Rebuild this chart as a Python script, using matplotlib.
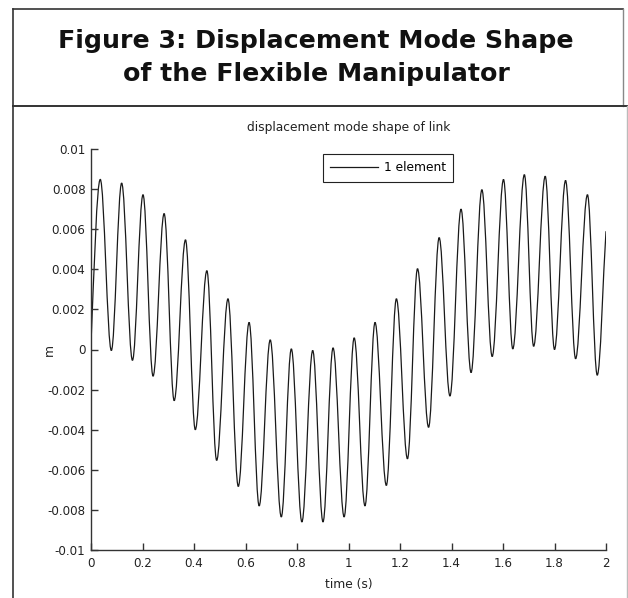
import numpy as np
import matplotlib
matplotlib.use('Agg')
import matplotlib.pyplot as plt
from matplotlib.path import Path
from matplotlib.patches import PathPatch
from matplotlib.lines import Line2D

# peaks / troughs of the displacement (time in s, value in m)
t_pts = [0.0, 0.036, 0.079, 0.119, 0.161, 0.202, 0.241, 0.284, 0.323, 0.367,
         0.405, 0.450, 0.488, 0.532, 0.572, 0.614, 0.653, 0.696, 0.739, 0.778,
         0.819, 0.861, 0.901, 0.940, 0.983, 1.022, 1.064, 1.103, 1.147, 1.186,
         1.229, 1.268, 1.311, 1.352, 1.394, 1.437, 1.476, 1.518, 1.558, 1.602,
         1.638, 1.683, 1.719, 1.764, 1.800, 1.843, 1.882, 1.928, 1.966, 2.0]
y_pts = [0.0003, 0.00848, -0.00005, 0.0083, -0.00054, 0.00772, -0.00133, 0.00678,
         -0.00255, 0.00547, -0.004, 0.00393, -0.00553, 0.00253, -0.00683, 0.00135,
         -0.0078, 0.00048, -0.00835, 0.00003, -0.0086, -0.00005, -0.0086, 0.00008,
         -0.00835, 0.00058, -0.0078, 0.00135, -0.00678, 0.00253, -0.00545, 0.00403,
         -0.00388, 0.00558, -0.00232, 0.0070, -0.00115, 0.00797, -0.00035, 0.00848,
         0.00003, 0.00872, 0.00016, 0.00864, 0.0, 0.00843, -0.00046, 0.00772,
         -0.00128, 0.0059]

xticks = [0, 0.2, 0.4, 0.6, 0.8, 1, 1.2, 1.4, 1.6, 1.8, 2]
xtick_labels = ['0', '0.2', '0.4', '0.6', '0.8', '1', '1.2', '1.4', '1.6', '1.8', '2']
yticks = [-0.01, -0.008, -0.006, -0.004, -0.002, 0, 0.002, 0.004, 0.006, 0.008, 0.01]
ytick_labels = ['-0.01', '-0.008', '-0.006', '-0.004', '-0.002', '0',
                '0.002', '0.004', '0.006', '0.008', '0.01']

# matlab style ticks
plt.rcParams['xtick.direction'] = 'in'
plt.rcParams['ytick.direction'] = 'in'
plt.rcParams['xtick.major.size'] = 5
plt.rcParams['ytick.major.size'] = 5
plt.rcParams['xtick.major.width'] = 1.0
plt.rcParams['ytick.major.width'] = 1.0

W, H = 628, 598
fig = plt.figure(figsize=(W / 100, H / 100), dpi=100)
fig.patch.set_facecolor('white')

def fx(px):
    return px / W

def fy(py):
    return 1 - py / H

# frame of the figure cell
frame_col = '#333333'
fig.add_artist(Line2D([fx(13), fx(623)], [fy(9), fy(9)], color=frame_col, lw=1.2))
fig.add_artist(Line2D([fx(13), fx(13)], [fy(9), fy(598)], color=frame_col, lw=1.2))
fig.add_artist(Line2D([fx(623), fx(623)], [fy(9), fy(106)], color='#888888', lw=1.0))
fig.add_artist(Line2D([fx(13), fx(628)], [fy(106), fy(106)], color=frame_col, lw=1.4))
fig.add_artist(Line2D([fx(627), fx(627)], [fy(106), fy(598)], color='#bbbbbb', lw=1.0))

fig.text(fx(316), fy(41), 'Figure 3: Displacement Mode Shape', ha='center', va='center',
         fontsize=18.2, fontweight='bold', family='DejaVu Sans', color='#111111')
fig.text(fx(316), fy(74), 'of the Flexible Manipulator', ha='center', va='center',
         fontsize=18.2, fontweight='bold', family='DejaVu Sans', color='#111111')

ax = fig.add_axes([fx(91), fy(550), fx(606) - fx(91), fy(149) - fy(550)])

# smooth curve between the extrema (horizontal tangent at each peak/trough)
verts = [(t_pts[0], y_pts[0])]
codes = [Path.MOVETO]
n = len(t_pts)
for i in range(n - 1):
    t0, y0 = t_pts[i], y_pts[i]
    t1, y1 = t_pts[i + 1], y_pts[i + 1]
    dt = t1 - t0
    if i == 0:
        c1 = (t0 + dt / 3, y0 + (y1 - y0) * 0.45)
    else:
        c1 = (t0 + dt * 0.36, y0)
    if i == n - 2:
        c2 = (t1 - dt / 3, y1 - (y1 - y0) * 0.3)
    else:
        c2 = (t1 - dt * 0.36, y1)
    verts += [c1, c2, (t1, y1)]
    codes += [Path.CURVE4, Path.CURVE4, Path.CURVE4]
curve = PathPatch(Path(verts, codes), fill=False, edgecolor='#1a1a1a', lw=0.9,
                  transform=ax.transData)
ax.add_patch(curve)

mfont = 'DejaVu Sans'
ax.set_xlim(0, 2)
ax.set_ylim(-0.01, 0.01)
ax.set_xticks(xticks)
ax.set_xticklabels(xtick_labels)
ax.set_yticks(yticks)
ax.set_yticklabels(ytick_labels)
for s in ['top', 'right']:
    ax.spines[s].set_visible(False)
for s in ['left', 'bottom']:
    ax.spines[s].set_color('#333333')
    ax.spines[s].set_linewidth(1.0)
ax.tick_params(axis='x', color='#333333', labelsize=8.6, labelcolor='#222222', pad=5)
ax.tick_params(axis='y', color='#333333', labelsize=8.6, labelcolor='#222222', pad=4)
for lab in ax.get_xticklabels() + ax.get_yticklabels():
    lab.set_family(mfont)

ax.set_title('displacement mode shape of link', fontsize=8.8, family=mfont,
             color='#222222', pad=13)
ax.set_xlabel('time (s)', fontsize=8.8, family=mfont, color='#222222', labelpad=6)
ax.set_ylabel('m', fontsize=8.8, family=mfont, color='#222222')
ax.yaxis.set_label_coords(-0.068, 0.5)

handle = Line2D([], [], color='#1a1a1a', lw=0.9)
leg = ax.legend([handle], ['1 element'], loc='upper left', bbox_to_anchor=(0.450, 0.9875),
                borderaxespad=0, fancybox=False, framealpha=1, edgecolor='#222222',
                handlelength=3.9, prop={'family': mfont, 'size': 8.8},
                borderpad=0.6, handletextpad=0.5)
leg.get_frame().set_linewidth(0.8)

fig.savefig('out.png', dpi=100, facecolor='white')
